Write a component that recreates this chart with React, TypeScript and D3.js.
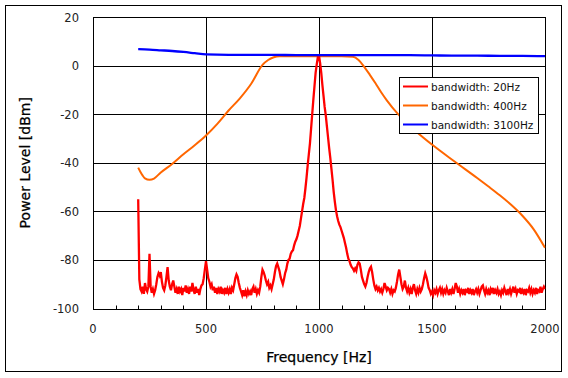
import React from "react";
import * as d3 from "d3";

const W = 568;
const H = 378;

const xTicks = [0, 500, 1000, 1500, 2000];
const yTicks = [20, 0, -20, -40, -60, -80, -100];
const xMinorTicks = [100, 200, 300, 400, 600, 700, 800, 900, 1100, 1200, 1300, 1400, 1600, 1700, 1800, 1900];
const seriesNames = ["bandwidth: 20Hz", "bandwidth: 400Hz", "bandwidth: 3100Hz"];
const seriesColors = ["#ff0000", "#ff6600", "#0000ff"];

// 3100 Hz bandwidth
const blueFreq = [200, 250, 300, 350, 400, 450, 500, 600, 700, 800, 900, 1000, 1100, 1200, 1300, 1400, 1500, 1600, 1700, 1800, 1900, 2000];
const blueVals = [6.8, 6.6, 6.3, 6.0, 5.6, 5.1, 4.6, 4.4, 4.4, 4.4, 4.3, 4.3, 4.3, 4.3, 4.3, 4.3, 4.2, 4.1, 4.1, 4.0, 4.0, 3.9];

// 400 Hz bandwidth
const orangeFreq = [200, 210, 220, 230, 250, 270, 300, 350, 400, 450, 500, 550, 600, 650, 700, 750, 775, 800, 825, 900, 1000, 1100, 1150, 1175, 1200, 1225, 1250, 1275, 1300, 1350, 1400, 1435, 1500, 1600, 1700, 1750, 1800, 1850, 1900, 1950, 2000];
const orangeVals = [-42, -43.8, -45.3, -46.4, -47, -46.5, -44, -40.5, -36.5, -32.8, -28.8, -24, -18.5, -13.5, -7.5, 0.3, 2.3, 3.4, 3.8, 3.8, 3.8, 3.8, 3.6, 2.3, -0.5, -3.8, -7.3, -11, -14.3, -20, -24.5, -27.5, -32.5, -39.5, -46.3, -49.8, -53.4, -57.3, -61.8, -67.4, -75];

// 20 Hz bandwidth, 5 Hz steps from 200 Hz
const redStart = 200;
const redStep = 5;
const redVals = [
  -55, -88, -92, -93, -91, -94, -89.5, -92, -93, -91, -77.5, -91, -93.5, -92, -94, -92.5, -90, -87, -85.5, -86.5,
  -85, -89, -91.5, -92.5, -90.5, -87, -83, -88.5, -91, -92.5, -90, -88.5, -91, -93.5, -92, -94, -91, -93, -92, -94.5,
  -91.5, -93, -90.5, -93.5, -92, -94, -91, -93, -89.5, -92.5, -94, -91, -93.5, -92, -94.5, -92, -90.5, -90, -87.5, -84,
  -80.5, -84, -87.5, -89, -91, -90, -92.5, -91, -93.5, -91.5, -94, -92, -93, -91, -94, -92.5, -93.5, -91.5, -94, -92,
  -93.5, -92, -94, -91.5, -92.5, -90, -87.5, -86, -87, -89.5, -91.5, -93, -94.5, -92.5, -95, -93, -94.5, -92.5, -94, -93,
  -94.5, -92, -91, -93.5, -92, -94, -92.5, -93.5, -91, -87, -84, -85, -86.5, -88.5, -90, -89, -91.5, -90.5, -92, -90,
  -88, -85, -82.5, -81.5, -83, -84.5, -87, -88.5, -90, -88, -85.5, -84, -81.5, -80, -79.5, -77.5, -76.5, -76, -74, -72.5,
  -71.5, -70, -68, -66, -63, -60, -57, -54.5, -50.5, -46, -41, -36.5, -32, -26, -20, -14, -8.5, -3, 0.5, 3.5,
  4, 1, -3, -8, -12.5, -17, -20.5, -25, -29.5, -34, -38, -42.5, -47, -52, -56, -59.5, -62, -64, -65.5, -66.5,
  -68, -69.5, -71, -73, -75, -77.5, -79.5, -80.5, -82, -83, -83.5, -84.5, -83.5, -84.5, -82, -81, -81.5, -84, -87, -88.5,
  -90, -91, -89.5, -87, -85, -83.5, -82.8, -85, -88, -90.5, -92, -91, -92.5, -91.5, -93, -92, -93.5, -92, -89.5, -91,
  -92.5, -91.5, -92, -93.5, -92, -94, -92.5, -93, -91.5, -89, -86, -84, -87, -90, -92, -91, -88.5, -91.5, -93, -91.5,
  -93.5, -92, -94, -91.5, -90, -92.5, -94, -92, -93.5, -91.5, -93, -92, -90, -87.5, -85.5, -87, -89, -91.5, -92.5, -94,
  -93, -94.5, -92.5, -93.5, -92, -94, -92.5, -91.5, -93.5, -92, -94, -92.5, -93.5, -91.5, -93, -94.5, -92, -93.5, -92, -94,
  -92, -89.5, -91, -93.5, -92, -94, -92.5, -93.5, -92, -94.5, -92.5, -93, -91.5, -94, -92.5, -93.5, -92, -94.5, -93, -92,
  -93.5, -92, -94, -92.5, -91, -90.5, -92.5, -94, -92, -93.5, -92.5, -94.5, -92, -93, -91.5, -94, -92.5, -93.5, -92, -94,
  -93, -94.5, -92.5, -93.5, -91.5, -93, -94.5, -92, -93.5, -92, -94, -92.5, -91, -93.5, -92, -94, -92.5, -93, -91.5, -94,
  -92.5, -93.5, -92, -94.5, -92.5, -93, -91.5, -93.5, -92, -94, -92.5, -93.5, -91.5, -94, -92.5, -93, -91, -93.5, -92, -91,
  -92,
];

const FONT = "'DejaVu Sans', Verdana, sans-serif";

export default function App() {
  const left = 93, right = 545, top = 17, bottom = 308.5;
  const x = d3.scaleLinear().domain([0, 2000]).range([left, right]);
  const y = d3.scaleLinear().domain([-100, 20]).range([bottom, top]);
  const crisp = (v: number) => Math.round(v) + 0.5;

  const line = d3
    .line<[number, number]>()
    .x((d) => x(d[0]))
    .y((d) => y(d[1]));
  const smooth = d3
    .line<[number, number]>()
    .x((d) => x(d[0]))
    .y((d) => y(d[1]))
    .curve(d3.curveMonotoneX);

  const redData: [number, number][] = redVals.map((v, i) => [redStart + i * redStep, v]);
  const orangeData: [number, number][] = orangeFreq.map((f, i) => [f, orangeVals[i]]);
  const blueData: [number, number][] = blueFreq.map((f, i) => [f, blueVals[i]]);

  const pl = crisp(x(0));
  const pr = crisp(x(2000));
  const pt = crisp(y(20));
  const pb = crisp(y(-100));

  const legX = 399.5, legY = 77.5, legW = 139, legH = 56;

  return (
    <svg
      width={W}
      height={H}
      style={{ position: "absolute", left: 0, top: 0, background: "#fff" }}
      fontFamily={FONT}
    >
      <rect x={5.5} y={5.5} width={556} height={366} fill="#fff" stroke="#000" strokeWidth={1} />
      <defs>
        <clipPath id="plotClip">
          <rect x={pl} y={pt} width={pr - pl} height={pb - pt} />
        </clipPath>
      </defs>
      {/* grid */}
      {xTicks.slice(1, -1).map((t) => (
        <line key={"gx" + t} x1={crisp(x(t))} x2={crisp(x(t))} y1={pt} y2={pb} stroke="#000" strokeWidth={1} />
      ))}
      {yTicks.slice(1, -1).map((t) => (
        <line key={"gy" + t} x1={pl} x2={pr} y1={crisp(y(t))} y2={crisp(y(t))} stroke="#000" strokeWidth={1} />
      ))}
      {xMinorTicks.map((t) => (
        <line key={"mx" + t} x1={crisp(x(t))} x2={crisp(x(t))} y1={pb} y2={pb - 4} stroke="#000" strokeWidth={1} />
      ))}
      <rect x={pl} y={pt} width={pr - pl} height={pb - pt} fill="none" stroke="#000" strokeWidth={1} />

      <g clipPath="url(#plotClip)">
        <path d={smooth(orangeData) || ""} fill="none" stroke={seriesColors[1]} strokeWidth={2} strokeLinejoin="round" />
        <path d={line(redData) || ""} fill="none" stroke={seriesColors[0]} strokeWidth={2.3} strokeLinejoin="miter" />
        <path d={smooth(blueData) || ""} fill="none" stroke={seriesColors[2]} strokeWidth={2.3} />
      </g>

      {/* tick labels */}
      {xTicks.map((t) => (
        <text key={"tx" + t} x={x(t)} y={333} textAnchor="middle" fontSize={11.5} fill="#222">
          {t}
        </text>
      ))}
      {yTicks.map((t) => (
        <text key={"ty" + t} x={79} y={y(t) + 4.5} textAnchor="end" fontSize={11.5} fill="#222">
          {t}
        </text>
      ))}

      {/* axis titles */}
      <text x={(left + right) / 2} y={362} textAnchor="middle" fontSize={14} fill="#000" stroke="#000" strokeWidth={0.25}>
        Frequency [Hz]
      </text>
      <text
        transform={`translate(30, ${(top + bottom) / 2}) rotate(-90)`}
        textAnchor="middle"
        fontSize={14}
        fill="#000"
        stroke="#000"
        strokeWidth={0.25}
      >
        Power Level [dBm]
      </text>

      {/* legend */}
      <rect x={legX} y={legY} width={legW} height={legH} fill="#fff" stroke="#000" strokeWidth={1} />
      {seriesNames.map((name, i) => {
        const cy = 86.5 + i * 19;
        return (
          <g key={name}>
            <line x1={403} x2={428} y1={cy} y2={cy} stroke={seriesColors[i]} strokeWidth={2} />
            <text x={431} y={cy + 4} fontSize={10.5} fill="#111">
              {name}
            </text>
          </g>
        );
      })}
    </svg>
  );
}
